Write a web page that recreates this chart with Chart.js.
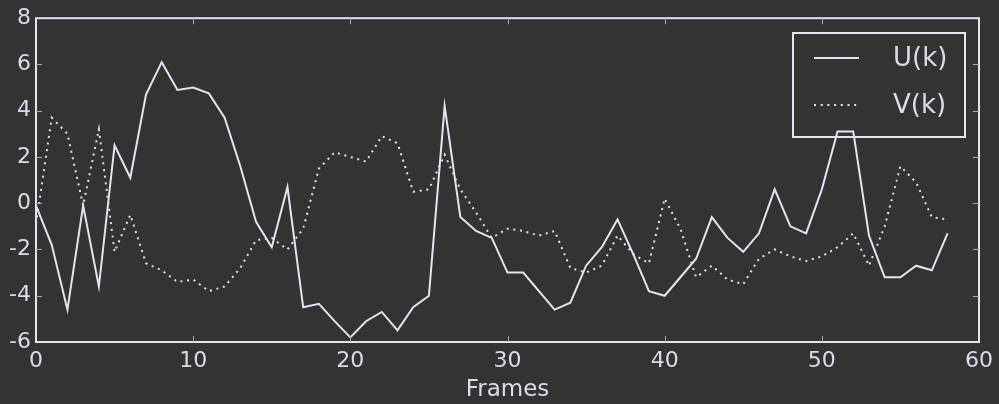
<!DOCTYPE html>
<html lang="en">
<head>
    <meta charset="UTF-8">
    <title>U(k) / V(k)</title>
    <script src="https://cdn.jsdelivr.net/npm/chart.js"></script>
    <style>
        html, body { margin: 0; padding: 0; background: #333333; }
        #box { width: 999px; height: 404px; }
    </style>
</head>
<body>
    <div id="box"><canvas id="grafico"></canvas></div>
</body>
</html>

<script>
    // dados
    const frames = [0, 1, 2, 3, 4, 5, 6, 7, 8, 9, 10, 11, 12, 13, 14, 15, 16, 17, 18, 19,
        20, 21, 22, 23, 24, 25, 26, 27, 28, 29, 30, 31, 32, 33, 34, 35, 36, 37, 38, 39,
        40, 41, 42, 43, 44, 45, 46, 47, 48, 49, 50, 51, 52, 53, 54, 55, 56, 57, 58];
    const uValues = [-0.1, -1.8, -4.6, -0.1, -3.6, 2.5, 1.1, 4.7, 6.1, 4.9, 5.0, 4.75, 3.7, 1.6, -0.8,
        -1.9, 0.7, -4.5, -4.35, -5.1, -5.8, -5.1, -4.7, -5.5, -4.5, -4.0, 4.2, -0.6, -1.2, -1.5,
        -3.0, -3.0, -3.8, -4.6, -4.3, -2.7, -1.9, -0.7, -2.2, -3.8, -4.0, -3.2, -2.4, -0.6, -1.5,
        -2.1, -1.3, 0.6, -1.0, -1.3, 0.6, 3.1, 3.1, -1.4, -3.2, -3.2, -2.7, -2.9, -1.3];
    const vValues = [-0.9, 3.7, 3.0, -0.1, 3.2, -2.1, -0.5, -2.6, -2.9, -3.4, -3.3, -3.8, -3.6, -2.8, -1.6,
        -1.5, -2.0, -1.1, 1.5, 2.2, 2.0, 1.8, 2.9, 2.6, 0.5, 0.6, 2.1, 0.6, -0.4, -1.5,
        -1.1, -1.2, -1.4, -1.2, -2.8, -3.0, -2.7, -1.4, -2.2, -2.6, 0.2, -1.1, -3.2, -2.7, -3.3,
        -3.5, -2.4, -2.0, -2.3, -2.5, -2.3, -1.9, -1.3, -2.7, -1.0, 1.6, 0.9, -0.6, -0.7];
    const seriesNames = ['U(k)', 'V(k)'];
    const xTicks = [0, 10, 20, 30, 40, 50, 60];
    const yTicks = [-6, -4, -2, 0, 2, 4, 6, 8];

    const corLinha = '#e4e4f0';
    const corTexto = '#dcdce8';
    const corFundo = '#333333';
    const fonte = 'DejaVu Sans';

    // legenda dentro do grafico, por baixo das linhas
    const legendaPlugin = {
        id: 'legenda',
        beforeDatasetsDraw(chart) {
            const ctx = chart.ctx;
            const lx = 793, ly = 33, lw = 172, lh = 104;
            ctx.save();
            ctx.fillStyle = corFundo;
            ctx.fillRect(lx, ly, lw, lh);
            ctx.strokeStyle = corLinha;
            ctx.lineWidth = 2;
            ctx.strokeRect(lx, ly, lw, lh);

            ctx.beginPath();
            ctx.moveTo(814, 58); ctx.lineTo(859, 58);
            ctx.stroke();
            ctx.setLineDash([2, 4.7]);
            ctx.beginPath();
            ctx.moveTo(814, 105); ctx.lineTo(859, 105);
            ctx.stroke();
            ctx.setLineDash([]);

            ctx.fillStyle = corTexto;
            ctx.font = '26px "' + fonte + '"';
            ctx.textBaseline = 'middle';
            ctx.textAlign = 'left';
            ctx.fillText(seriesNames[0], 893, 59);
            ctx.fillText(seriesNames[1], 893, 106);
            ctx.restore();
        }
    };

    // moldura e ticks para dentro (estilo matplotlib)
    const molduraPlugin = {
        id: 'moldura',
        afterDatasetsDraw(chart) {
            const ctx = chart.ctx;
            const a = chart.chartArea;
            const sx = chart.scales.x;
            const sy = chart.scales.y;
            ctx.save();
            ctx.strokeStyle = corLinha;
            ctx.lineWidth = 2;
            ctx.strokeRect(a.left, a.top, a.right - a.left, a.bottom - a.top);

            ctx.strokeStyle = '#aaaab4';
            ctx.lineWidth = 1;
            ctx.beginPath();
            xTicks.slice(1, -1).forEach(v => {
                const px = Math.round(sx.getPixelForValue(v)) + 0.5;
                ctx.moveTo(px, a.bottom); ctx.lineTo(px, a.bottom - 6);
                ctx.moveTo(px, a.top); ctx.lineTo(px, a.top + 6);
            });
            yTicks.slice(1, -1).forEach(v => {
                const py = Math.round(sy.getPixelForValue(v)) + 0.5;
                ctx.moveTo(a.left, py); ctx.lineTo(a.left + 6, py);
                ctx.moveTo(a.right, py); ctx.lineTo(a.right - 6, py);
            });
            ctx.stroke();
            ctx.restore();
        }
    };

    const dados = {
        datasets: [
            {
                label: seriesNames[0],
                data: frames.map((f, i) => ({ x: f, y: uValues[i] })),
                borderColor: corLinha,
                borderWidth: 2,
                pointRadius: 0,
                tension: 0,
                fill: false
            },
            {
                label: seriesNames[1],
                data: frames.map((f, i) => ({ x: f, y: vValues[i] })),
                borderColor: corLinha,
                borderWidth: 2,
                borderDash: [2, 4.7],
                pointRadius: 0,
                tension: 0,
                fill: false
            }
        ]
    };

    const config = {
        type: 'line',
        data: dados,
        options: {
            responsive: true,
            maintainAspectRatio: false,
            animation: false,
            layout: { padding: { top: 18, right: 19, left: 0, bottom: 0 } },
            plugins: {
                legend: { display: false },
                tooltip: { enabled: false }
            },
            scales: {
                x: {
                    type: 'linear',
                    min: 0,
                    max: 60,
                    afterBuildTicks: s => { s.ticks = xTicks.map(v => ({ value: v })); },
                    grid: { display: false, drawTicks: false },
                    border: { display: false },
                    ticks: {
                        color: corTexto,
                        font: { family: fonte, size: 22 },
                        padding: 6,
                        maxRotation: 0,
                        autoSkip: false
                    },
                    title: {
                        display: true,
                        text: 'Frames',
                        color: corTexto,
                        font: { family: fonte, size: 23 },
                        padding: { top: 0, bottom: 0 }
                    },
                    afterFit: s => { s.height = 62; }
                },
                y: {
                    min: -6,
                    max: 8,
                    afterBuildTicks: s => { s.ticks = yTicks.map(v => ({ value: v })); },
                    grid: { display: false, drawTicks: false },
                    border: { display: false },
                    ticks: {
                        color: corTexto,
                        font: { family: fonte, size: 22 },
                        padding: 5,
                        autoSkip: false
                    },
                    afterFit: s => { s.width = 36; }
                }
            }
        },
        plugins: [legendaPlugin, molduraPlugin]
    };

    new Chart(document.getElementById('grafico'), config);
</script>
